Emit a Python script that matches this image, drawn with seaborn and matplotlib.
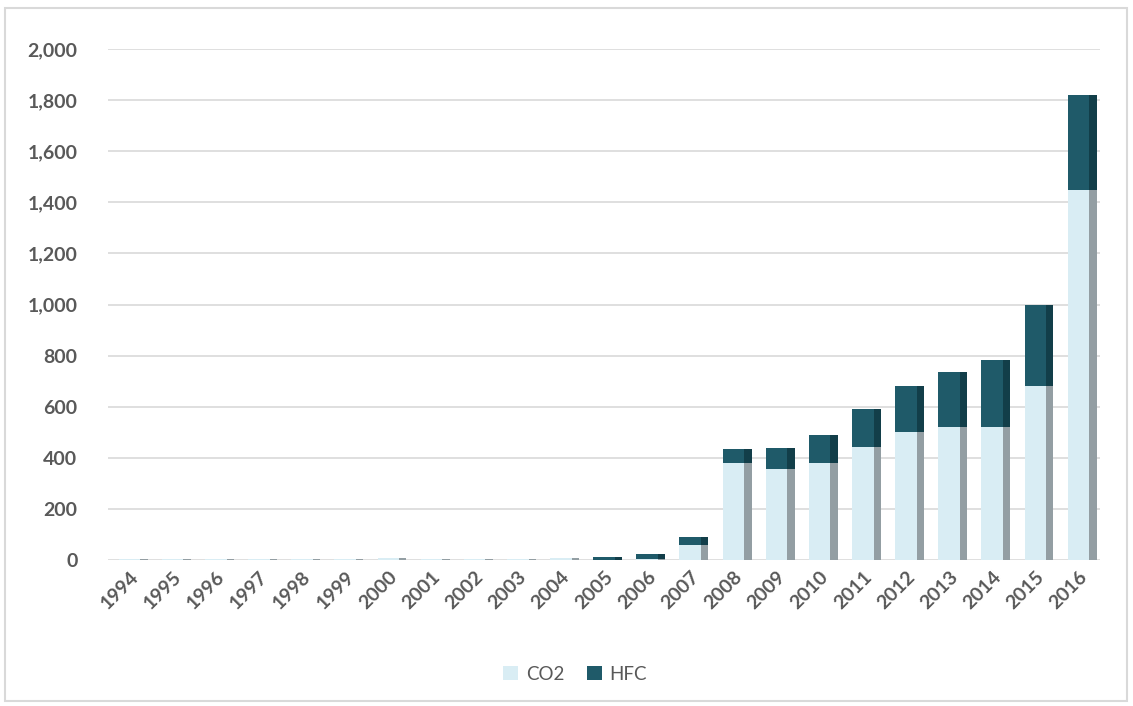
import numpy as np
import pandas as pd
import matplotlib
matplotlib.use("Agg")
import matplotlib.pyplot as plt
from matplotlib.patches import Rectangle, Patch
from matplotlib.ticker import FuncFormatter
import seaborn as sns

# Annual installed capacity by refrigerant type
years = [str(y) for y in range(1994, 2017)]
co2 = [5, 5, 5, 5, 4, 5, 6, 4, 5, 5, 6, 0, 3, 60, 380, 356, 380, 442, 500, 520, 520, 680, 1450]
hfc = [0, 0, 0, 0, 0, 0, 0, 0, 0, 0, 0, 10, 20, 30, 55, 82, 110, 148, 180, 215, 262, 320, 370]
y_ticks = list(range(0, 2001, 200))

df = pd.DataFrame({"year": years, "CO2": co2, "HFC": hfc})
df["total"] = df["CO2"] + df["HFC"]

CO2_FACE = "#d9edf4"
CO2_SIDE = "#939ea3"
HFC_FACE = "#1f5a69"
HFC_SIDE = "#123e49"
TEXT = "#595959"

sns.set_theme(style="white")
plt.rcParams["font.family"] = ["Lato", "DejaVu Sans"]

fig = plt.figure(figsize=(11.33, 7.06), dpi=100)
ax = fig.add_axes([108 / 1133, 1 - 560 / 706, (1100 - 108) / 1133, (560 - 49) / 706])

x = np.arange(len(years))
bar_w = 0.5
depth = 0.17

# Side faces give the columns a little depth
ax.bar(x + bar_w / 2 + depth / 2, df["total"], width=depth, color=HFC_SIDE,
       linewidth=0, zorder=1)
ax.bar(x + bar_w / 2 + depth / 2, df["CO2"], width=depth, color=CO2_SIDE,
       linewidth=0, zorder=1)

# Stacked columns: totals (HFC on top) drawn first, CO2 over them
sns.barplot(data=df, x="year", y="total", color=HFC_FACE, width=bar_w,
            saturation=1, ax=ax, zorder=2, linewidth=0)
sns.barplot(data=df, x="year", y="CO2", color=CO2_FACE, width=bar_w,
            saturation=1, ax=ax, zorder=3, linewidth=0)

ax.set_xlim(-0.5, len(years) - 0.5)
ax.set_ylim(0, 2000)
ax.set_yticks(y_ticks)
ax.yaxis.set_major_formatter(FuncFormatter(lambda v, p: f"{int(v):,}"))
ax.grid(axis="y", color="#d9d9d9", linewidth=1.2, zorder=0)
ax.set_axisbelow(True)
for s in ax.spines.values():
    s.set_visible(False)
ax.set_xlabel("")
ax.set_ylabel("")
ax.tick_params(axis="y", length=0, pad=22, labelsize=14, labelcolor=TEXT)
ax.tick_params(axis="x", length=0, pad=6, labelsize=14, labelcolor=TEXT)
for lbl in ax.get_yticklabels():
    lbl.set_fontweight("bold")
for lbl in ax.get_xticklabels():
    lbl.set_fontweight("bold")
    lbl.set_rotation(45)
    lbl.set_ha("right")
    lbl.set_rotation_mode("anchor")

handles = [Patch(facecolor=CO2_FACE, edgecolor="none", label="CO2"),
           Patch(facecolor=HFC_FACE, edgecolor="none", label="HFC")]
leg = fig.legend(handles=handles, loc="center", ncol=2,
                 bbox_to_anchor=(575 / 1133, 1 - 674 / 706), frameon=False,
                 fontsize=13.5, handlelength=0.8, handleheight=0.8,
                 handletextpad=0.4, columnspacing=1.2)
for t in leg.get_texts():
    t.set_color(TEXT)

# Thin frame around the whole chart
fig.patches.append(Rectangle((5 / 1133, 5 / 706), 1122 / 1133, 693 / 706,
                             transform=fig.transFigure, fill=False,
                             edgecolor="#d9d9d9", linewidth=1.5))

fig.savefig("out.png", dpi=100, facecolor="white")
